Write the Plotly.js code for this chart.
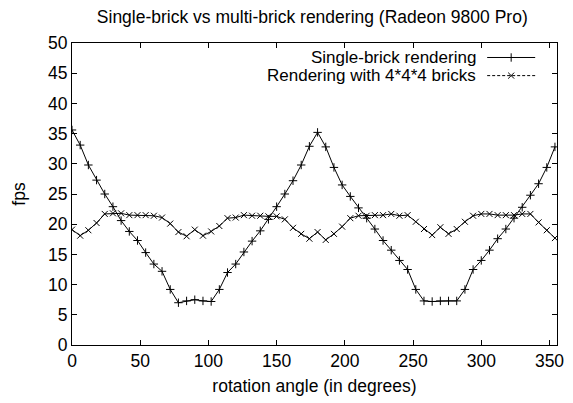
<!DOCTYPE html>
<html><head><meta charset="utf-8">
<script src="https://cdn.plot.ly/plotly-3.0.1.min.js"></script>
<style>html,body{margin:0;padding:0;background:#fff}#c{width:573px;height:403px}</style>
</head><body><div id="c"></div>
<script>
const angles = [];
for (let a = 0; a <= 354; a += 6) angles.push(a);
const singleBrick = [35.6,33.1,29.8,27.3,25.0,22.9,20.6,18.8,17.3,15.3,13.4,12.2,9.2,7.0,7.3,7.5,7.3,7.2,9.2,12.0,13.4,15.4,17.2,18.9,20.8,22.9,25.0,27.2,29.8,32.9,
  35.2,32.8,29.4,26.5,24.6,22.7,21.0,19.2,17.3,15.7,14.0,12.5,9.2,7.3,7.2,7.3,7.3,7.3,9.2,12.5,14.0,15.7,17.6,19.2,21.0,22.8,24.8,26.7,29.4,32.8];
const multiBrick = [19.1,18.1,19.0,20.2,21.7,21.8,21.8,21.5,21.5,21.5,21.4,21.1,20.1,18.7,18.0,19.1,18.1,18.8,19.7,21.0,21.1,21.5,21.4,21.4,21.3,21.3,20.8,19.4,18.4,17.6,
  18.7,17.4,18.4,19.6,21.0,21.4,21.4,21.5,21.5,21.7,21.4,21.5,20.4,19.2,18.2,19.5,18.4,19.2,20.4,21.4,21.7,21.7,21.5,21.5,21.5,21.7,21.7,20.3,19.0,17.7];
const seriesNames = ["Single-brick rendering", "Rendering with 4*4*4 bricks"];
const xTicks = [0,50,100,150,200,250,300,350];
const yTicks = [0,5,10,15,20,25,30,35,40,45,50];

const font = {family: "Liberation Sans, Arial, sans-serif", size: 17.5, color: "#000"};
const legFont = {family: "Liberation Sans, Arial, sans-serif", size: 17, color: "#000"};
const symbols = ["cross-thin-open", "x-thin-open"];
const traces = [0, 1].map(i => ({
  x: angles, y: i === 0 ? singleBrick : multiBrick, mode: "lines+markers", name: seriesNames[i],
  line: {color: "#000", width: 1},
  marker: {symbol: symbols[i], size: 6, color: "#000", line: {color: "#000", width: 1}}
}));

// legend drawn gnuplot-style: text right-aligned, sample to the right
const legTextX = 0.835, legSampleX0 = 0.856, legSampleX1 = 0.955, legY = [0.952, 0.892];
const annotations = seriesNames.map((n, i) => ({
  xref: "paper", yref: "paper", x: legTextX, y: legY[i], xanchor: "right", yanchor: "middle",
  text: n, showarrow: false, font: legFont, borderpad: 0
}));
const shapes = legY.map((yy, i) => ({
  type: "line", xref: "paper", yref: "paper", x0: legSampleX0, x1: legSampleX1, y0: yy, y1: yy,
  line: {color: "#000", width: 1, dash: i === 0 ? "solid" : "3px,2px"}
}));
const legendTraces = legY.map((yy, i) => ({
  x: [(legSampleX0 + legSampleX1) / 2], y: [yy], xaxis: "x2", yaxis: "y2", mode: "markers", showlegend: false,
  hoverinfo: "skip",
  marker: {symbol: symbols[i], size: 6, color: "#000", line: {color: "#000", width: 1}}
}));

const axisCommon = {showgrid: false, zeroline: false, showline: true, linecolor: "#000", linewidth: 1,
  mirror: "ticks", ticks: "inside", ticklen: 5, tickcolor: "#000", tickfont: font};

Plotly.newPlot("c", traces.concat(legendTraces), {
  width: 573, height: 403,
  margin: {l: 72, r: 16, t: 43, b: 58},
  paper_bgcolor: "#fff", plot_bgcolor: "#fff",
  showlegend: false,
  font: font,
  title: {text: "Single-brick vs multi-brick rendering (Radeon 9800 Pro)", font: font, x: 0.545, xanchor: "center", y: 0.958, yanchor: "middle"},
  xaxis: Object.assign({}, axisCommon, {range: [0, 355.5], tickvals: xTicks,
    title: {text: "rotation angle (in degrees)", font: font, standoff: 9}}),
  yaxis: Object.assign({}, axisCommon, {range: [0, 50], tickvals: yTicks,
    title: {text: "fps", font: font, standoff: 17}}),
  xaxis2: {overlaying: "x", range: [0, 1], visible: false},
  yaxis2: {overlaying: "y", range: [0, 1], visible: false},
  annotations: annotations,
  shapes: shapes
}, {displayModeBar: false, staticPlot: true});
</script></body></html>
